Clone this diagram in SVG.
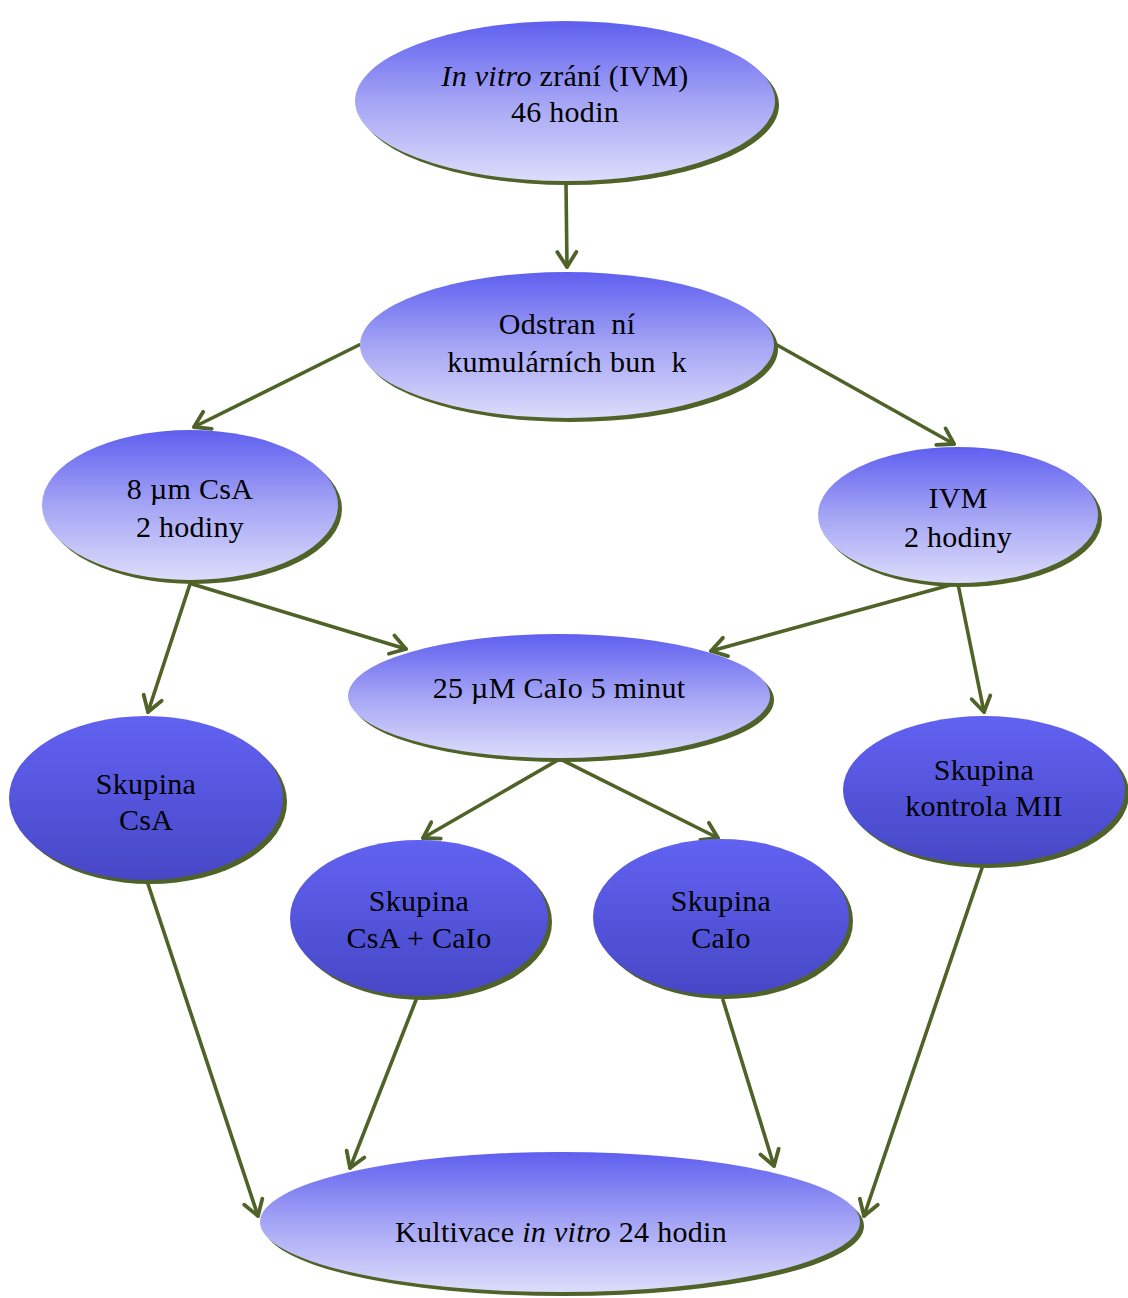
<svg xmlns="http://www.w3.org/2000/svg" width="1128" height="1298" viewBox="0 0 1128 1298">
<style>
.sh{fill:#4f6228}
.lt{fill:url(#gl)}
.dk{fill:url(#gd)}
.t{font-family:"Liberation Serif","Times New Roman",serif;font-size:30px;fill:#000;text-anchor:middle;letter-spacing:0.3px}
.c{fill:none;stroke:#4f6228;stroke-width:3.6;stroke-linecap:round;marker-end:url(#ah)}
</style>
<defs>
<linearGradient id="gl" x1="0" y1="0" x2="0" y2="1">
<stop offset="0" stop-color="#5f5ff0"/>
<stop offset="0.5" stop-color="#a4a4f5"/>
<stop offset="1" stop-color="#dcdcfb"/>
</linearGradient>
<linearGradient id="gd" x1="0" y1="0" x2="0" y2="1">
<stop offset="0" stop-color="#6262f2"/>
<stop offset="1" stop-color="#4747c6"/>
</linearGradient>
<marker id="ah" markerUnits="userSpaceOnUse" markerWidth="36" markerHeight="36" viewBox="-18 -18 36 36" refX="0" refY="0" orient="auto">
<path d="M-15,-9.5 L0,0 L-15,9.5" fill="none" stroke="#4f6228" stroke-width="3.8" stroke-linecap="round" stroke-linejoin="round"/>
</marker>
</defs>
<g id="connectors">
<line class="c" x1="566" y1="183" x2="567" y2="267"/>
<line class="c" x1="359" y1="345" x2="194" y2="427"/>
<line class="c" x1="777" y1="345" x2="954" y2="444"/>
<line class="c" x1="190" y1="584" x2="148" y2="712"/>
<line class="c" x1="192" y1="584" x2="406" y2="649"/>
<line class="c" x1="954" y1="584" x2="711" y2="651"/>
<line class="c" x1="958" y1="584" x2="984" y2="712"/>
<line class="c" x1="558" y1="760" x2="423" y2="838"/>
<line class="c" x1="562" y1="760" x2="718" y2="838"/>
<line class="c" x1="148" y1="884" x2="258" y2="1216"/>
<line class="c" x1="416" y1="1000" x2="350" y2="1168"/>
<line class="c" x1="723" y1="1000" x2="774" y2="1166"/>
<line class="c" x1="982" y1="868" x2="864" y2="1216"/>
</g>
<g id="n1">
<ellipse class="sh" cx="569" cy="105" rx="210" ry="80"/>
<ellipse class="lt" cx="565" cy="101" rx="210" ry="80"/>
<text class="t" x="565" y="86"><tspan font-style="italic">In vitro</tspan> zrání (IVM)</text>
<text class="t" x="565" y="122">46 hodin</text>
</g>
<g id="n2">
<ellipse class="sh" cx="571" cy="349" rx="207" ry="73"/>
<ellipse class="lt" cx="567" cy="345" rx="207" ry="73"/>
<text class="t" x="567" y="334" xml:space="preserve">Odstran  ní</text>
<text class="t" x="567" y="372" xml:space="preserve">kumulárních bun  k</text>
</g>
<g id="n3">
<ellipse class="sh" cx="194" cy="509" rx="148" ry="75"/>
<ellipse class="lt" cx="190" cy="505" rx="148" ry="75"/>
<text class="t" x="190" y="499">8 µm CsA</text>
<text class="t" x="190" y="537">2 hodiny</text>
</g>
<g id="n4">
<ellipse class="sh" cx="962" cy="519" rx="140" ry="68"/>
<ellipse class="lt" cx="958" cy="515" rx="140" ry="68"/>
<text class="t" x="958" y="508">IVM</text>
<text class="t" x="958" y="547">2 hodiny</text>
</g>
<g id="n5">
<ellipse class="sh" cx="563" cy="700" rx="211" ry="62"/>
<ellipse class="lt" cx="559" cy="696" rx="211" ry="62"/>
<text class="t" x="559" y="698">25 µM CaIo 5 minut</text>
</g>
<g id="n6">
<ellipse class="sh" cx="150" cy="802" rx="137" ry="82"/>
<ellipse class="dk" cx="146" cy="798" rx="137" ry="82"/>
<text class="t" x="146" y="794">Skupina</text>
<text class="t" x="146" y="830">CsA</text>
</g>
<g id="n7">
<ellipse class="sh" cx="988" cy="794" rx="141" ry="74"/>
<ellipse class="dk" cx="984" cy="790" rx="141" ry="74"/>
<text class="t" x="984" y="780">Skupina</text>
<text class="t" x="984" y="816">kontrola MII</text>
</g>
<g id="n8">
<ellipse class="sh" cx="423" cy="922" rx="129" ry="78"/>
<ellipse class="dk" cx="419" cy="918" rx="129" ry="78"/>
<text class="t" x="419" y="911">Skupina</text>
<text class="t" x="419" y="948">CsA + CaIo</text>
</g>
<g id="n9">
<ellipse class="sh" cx="725" cy="921" rx="128" ry="78"/>
<ellipse class="dk" cx="721" cy="917" rx="128" ry="78"/>
<text class="t" x="721" y="911">Skupina</text>
<text class="t" x="721" y="948">CaIo</text>
</g>
<g id="n10">
<ellipse class="sh" cx="564" cy="1226" rx="300" ry="70"/>
<ellipse class="lt" cx="560" cy="1222" rx="300" ry="70"/>
<text class="t" x="561" y="1242">Kultivace <tspan font-style="italic">in vitro</tspan> 24 hodin</text>
</g>
</svg>
